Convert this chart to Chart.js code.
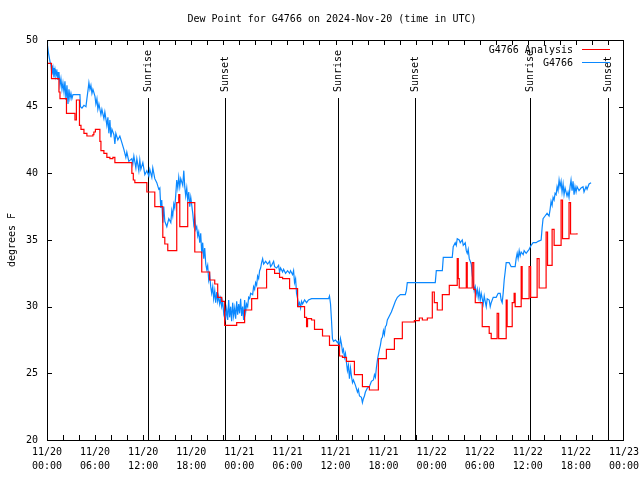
<!DOCTYPE html>
<html><head><meta charset="utf-8">
<script src="https://cdn.jsdelivr.net/npm/chart.js@4.4.0/dist/chart.umd.min.js"></script>
<style>html,body{margin:0;padding:0;background:#fff}canvas{display:block}</style>
</head><body>
<canvas id="c" width="640" height="480"></canvas>
<script>
// Hours since 2024-11-20 00:00 UTC
const obsTime = [0.00,0.06,0.19,0.37,0.50,0.62,0.75,0.87,1.00,1.12,1.25,1.37,1.49,1.62,1.74,1.87,1.99,2.12,2.24,2.37,2.49,2.62,2.74,2.86,2.99,3.11,3.24,4.11,4.17,4.36,4.61,4.86,4.98,5.11,5.23,5.36,5.48,5.61,5.73,5.98,6.10,6.23,6.35,6.48,6.73,6.85,7.10,7.22,7.47,7.60,7.72,7.85,7.97,8.10,8.35,8.47,8.59,8.84,9.09,9.34,9.59,9.84,9.96,10.21,10.59,10.71,10.84,11.09,11.21,11.46,11.58,11.71,11.96,12.21,12.46,12.71,12.83,13.08,13.20,13.45,13.70,13.95,14.08,14.20,14.32,14.45,14.57,14.70,14.95,15.20,15.45,15.57,15.69,15.82,15.94,16.07,16.19,16.32,16.44,16.57,16.69,16.94,17.07,17.19,17.31,17.44,17.56,17.69,17.81,17.94,18.19,18.31,18.44,18.56,18.68,18.81,18.93,19.06,19.18,19.31,19.43,19.56,19.68,19.81,19.93,20.05,20.18,20.30,20.43,20.55,20.68,20.80,20.93,21.05,21.18,21.30,21.42,21.55,21.67,21.80,21.92,22.05,22.17,22.30,22.42,22.55,22.67,22.79,22.92,23.04,23.17,23.29,23.42,23.54,23.67,23.79,23.92,24.04,24.16,24.29,24.41,24.54,24.66,24.79,24.91,25.04,25.16,25.29,25.41,25.66,25.78,25.91,26.03,26.16,26.28,26.41,26.53,26.66,26.78,26.91,27.03,27.28,27.53,27.78,27.90,28.03,28.28,28.40,28.65,28.90,29.02,29.15,29.40,29.52,29.77,30.02,30.27,30.39,30.64,30.77,30.89,31.02,31.14,31.27,31.39,31.51,31.64,31.76,31.89,32.14,32.39,32.63,33.01,35.13,35.25,35.38,35.50,35.62,35.75,36.00,36.25,36.37,36.50,36.62,36.75,36.87,36.99,37.12,37.24,37.37,37.49,37.62,37.74,37.87,37.99,38.12,38.24,38.49,38.74,38.86,38.99,39.24,39.36,39.48,39.61,39.73,39.98,40.23,40.48,40.73,40.86,40.98,41.10,41.23,41.35,41.48,41.60,41.73,41.85,41.98,42.10,42.22,42.35,42.47,42.72,42.97,43.22,43.47,43.72,44.09,44.71,44.84,44.96,48.45,48.58,49.33,49.45,50.57,50.69,50.94,51.07,51.19,51.44,51.57,51.82,51.94,52.19,52.32,52.44,52.56,52.69,52.94,53.06,53.19,53.31,53.44,53.56,53.69,53.81,53.94,54.06,54.18,54.31,54.43,54.56,54.68,54.81,54.93,55.18,55.31,55.43,55.68,56.05,56.30,56.55,56.67,56.80,56.92,57.05,57.17,57.30,57.67,57.92,58.42,58.54,58.67,58.79,58.92,59.04,59.17,59.42,59.54,59.79,60.04,60.16,60.41,60.66,61.03,61.28,61.66,61.78,61.90,62.15,62.40,62.65,62.78,62.90,63.03,63.15,63.28,63.40,63.53,63.65,63.77,63.90,64.02,64.15,64.27,64.40,64.52,64.65,64.89,65.02,65.14,65.27,65.39,65.52,65.64,65.77,65.89,66.02,66.14,66.39,66.64,66.89,67.01,67.26,67.39,67.64,67.89];
const obsDew = [50.0,49.6,49.0,48.4,48.1,47.4,47.9,47.2,47.8,47.3,47.6,47.0,47.6,46.6,47.1,46.3,46.8,46.1,46.9,45.5,46.6,45.2,46.3,45.6,46.0,45.6,45.9,45.9,45.0,44.9,45.1,45.0,45.6,46.2,46.8,46.3,46.6,46.0,46.3,45.8,45.2,45.6,44.8,45.2,44.4,44.8,44.1,44.6,43.6,44.2,43.0,44.0,42.7,43.3,42.9,42.2,43.0,42.5,42.8,42.3,41.8,41.2,41.6,40.9,41.1,40.7,41.3,40.4,41.1,40.2,41.0,40.3,40.8,39.9,40.2,39.8,40.3,39.7,40.4,39.6,39.3,38.8,38.9,37.4,38.0,36.3,37.5,36.4,36.0,36.6,36.3,37.2,36.8,37.7,37.4,38.4,39.5,38.9,39.7,39.0,39.6,39.1,40.2,39.0,38.3,38.9,38.0,38.6,37.5,38.2,37.0,36.2,36.7,35.8,36.0,35.3,35.6,34.8,35.5,34.0,34.8,33.6,34.4,33.2,32.8,33.1,32.0,32.4,31.5,31.0,31.5,30.6,31.2,30.3,31.1,30.4,30.8,30.2,30.6,30.0,30.4,29.5,29.9,29.2,29.8,29.0,30.5,29.2,30.0,28.9,30.3,29.3,29.9,29.1,30.4,29.4,30.2,29.5,30.6,29.3,30.0,29.0,30.5,29.6,30.2,30.0,30.7,30.6,31.0,30.9,31.5,31.3,31.8,31.6,32.3,32.1,32.7,32.9,33.3,33.6,33.2,33.4,33.2,33.4,33.0,33.1,33.4,33.0,32.9,33.1,32.6,32.9,32.6,32.8,32.5,32.7,32.5,32.7,32.4,32.7,31.8,32.1,31.0,30.6,30.1,30.3,29.9,30.4,30.2,30.5,30.3,30.5,30.6,30.6,30.8,30.2,29.0,27.6,27.4,27.5,27.3,27.4,27.0,27.6,27.2,26.6,26.8,26.2,26.5,25.8,25.2,25.6,24.6,25.4,24.8,24.3,24.5,24.1,23.6,23.8,23.3,23.2,22.8,23.1,23.3,23.6,23.9,24.0,24.4,24.5,24.9,24.7,25.4,26.0,26.4,26.8,27.1,27.6,27.7,28.2,27.9,28.5,28.6,29.0,29.3,29.6,30.0,30.4,30.7,30.9,30.9,31.2,31.8,31.8,32.7,32.7,33.7,33.7,34.5,34.8,34.6,35.1,35.0,34.8,35.0,34.6,34.8,34.2,34.0,34.3,33.6,33.2,32.4,31.8,31.2,31.5,30.9,31.3,30.7,31.2,30.5,31.0,30.6,30.2,30.8,30.4,30.0,30.6,30.5,30.0,30.3,30.7,30.7,31.0,31.0,30.5,30.3,31.0,32.0,32.6,33.3,33.3,33.0,33.0,33.6,34.0,33.6,34.2,33.8,34.1,33.9,34.2,34.0,34.2,34.3,34.6,34.8,34.8,34.9,35.0,35.9,36.6,36.8,37.0,36.8,37.3,37.9,37.6,38.2,38.0,38.5,38.4,39.0,38.7,39.5,39.0,39.4,38.6,39.2,38.4,38.9,38.3,38.6,38.2,39.0,39.5,38.7,39.4,38.4,39.0,38.6,39.0,38.7,38.9,39.0,38.6,39.0,38.8,39.2,39.3];

const anaTime = [0.00,0.56,1.49,1.62,2.43,3.49,3.67,4.05,4.24,4.61,4.98,5.73,5.85,6.04,6.60,6.73,7.10,7.47,7.85,8.22,8.47,10.59,10.77,10.96,12.46,13.45,14.45,14.70,15.07,16.19,16.44,16.57,17.56,18.44,19.31,20.30,20.93,21.30,21.80,22.17,23.67,24.66,25.54,26.28,27.40,28.40,29.02,29.40,30.27,31.27,32.14,32.39,32.51,33.01,33.38,34.38,35.25,36.50,36.87,37.37,38.36,39.36,40.23,41.35,42.35,43.35,44.34,45.84,46.46,46.84,47.46,48.08,48.33,48.70,49.33,50.20,51.19,51.32,51.44,52.32,52.44,53.06,53.25,53.44,54.31,55.18,55.43,56.17,56.36,57.30,57.42,58.05,58.29,58.42,59.17,59.29,60.16,60.35,61.16,61.41,62.28,62.46,63.03,63.28,64.15,64.33,65.14,65.33,66.14];
const anaDew = [48.25,47.1,46.1,45.6,44.5,44.0,45.5,43.6,43.3,43.0,42.8,42.9,43.1,43.3,42.4,41.7,41.5,41.2,41.1,41.2,40.8,40.0,39.5,39.3,38.6,37.5,35.2,34.7,34.2,37.8,38.4,36.0,37.8,34.1,32.6,32.0,31.7,30.7,30.4,28.6,28.8,29.75,30.6,31.4,32.8,32.5,32.2,32.1,31.35,30.0,29.2,28.5,29.1,29.0,28.3,27.8,27.1,26.3,26.2,25.9,24.9,24.0,23.75,26.1,26.8,27.6,28.85,28.95,29.15,29.0,29.15,31.1,30.3,29.75,30.9,31.6,33.6,32.1,31.4,33.3,31.4,33.3,31.3,30.3,28.5,28.0,27.6,29.5,27.6,30.5,28.5,30.3,31.0,30.0,33.0,30.6,33.0,30.7,33.6,31.4,35.6,33.1,35.8,34.6,38.0,35.1,37.8,35.45,35.5];

const sunTimes = [12.58, 22.17, 36.37, 45.96, 60.29, 70.0];
const sunLabels = ['Sunrise','Sunset','Sunrise','Sunset','Sunrise','Sunset'];
const seriesNames = ['G4766 Analysis','G4766'];
const seriesColors = ['#ff0000','#0a88ff'];
const titleText = 'Dew Point for G4766 on 2024-Nov-20 (time in UTC)';
const yTitle = 'degrees F';

const FONT = '10px "DejaVu Sans Mono", monospace';

const decor = {
  id: 'decor',
  beforeDatasetsDraw(chart) {
    const {ctx, chartArea: a, scales: {x}} = chart;
    ctx.save();
    ctx.strokeStyle = '#000'; ctx.lineWidth = 1;
    sunTimes.forEach((t, i) => {
      const px = Math.round(x.getPixelForValue(t)) + 0.5;
      ctx.beginPath(); ctx.moveTo(px, a.bottom); ctx.lineTo(px, a.top + 58); ctx.stroke();
      ctx.save();
      ctx.translate(px, a.top + 52); ctx.rotate(-Math.PI / 2);
      ctx.font = FONT; ctx.fillStyle = '#000'; ctx.textAlign = 'left'; ctx.textBaseline = 'middle';
      ctx.fillText(sunLabels[i], 0, 0);
      ctx.restore();
    });
    ctx.restore();
  },
  afterDraw(chart) {
    const {ctx, chartArea: a, scales: {x, y}} = chart;
    ctx.save();
    ctx.strokeStyle = '#000'; ctx.lineWidth = 1;
    // frame
    ctx.strokeRect(a.left + 0.5, a.top + 0.5, a.right - a.left - 1, a.bottom - a.top);
    // x ticks every 2h, inward, top and bottom
    ctx.beginPath();
    for (let h = 2; h < 72; h += 2) {
      const px = Math.round(x.getPixelForValue(h)) + 0.5;
      ctx.moveTo(px, a.bottom); ctx.lineTo(px, a.bottom - 5);
      ctx.moveTo(px, a.top); ctx.lineTo(px, a.top + 5);
    }
    for (let v = 25; v < 50; v += 5) {
      const py = Math.round(y.getPixelForValue(v)) + 0.5;
      ctx.moveTo(a.left, py); ctx.lineTo(a.left + 5, py);
      ctx.moveTo(a.right, py); ctx.lineTo(a.right - 5, py);
    }
    ctx.stroke();
    // title
    ctx.font = FONT; ctx.fillStyle = '#000';
    ctx.textAlign = 'center'; ctx.textBaseline = 'middle';
    ctx.fillText(titleText, 332, 19);
    // y title
    ctx.save(); ctx.translate(12, 240); ctx.rotate(-Math.PI / 2);
    ctx.fillText(yTitle, 0, 0); ctx.restore();
    // legend
    ctx.textAlign = 'right';
    seriesNames.forEach((n, i) => {
      const ly = a.top + 10 + i * 13;
      ctx.fillStyle = '#000';
      ctx.fillText(n, a.right - 51, ly);
      ctx.strokeStyle = seriesColors[i];
      ctx.beginPath(); ctx.moveTo(a.right - 42, ly - 0.5); ctx.lineTo(a.right - 14, ly - 0.5); ctx.stroke();
    });
    ctx.restore();
  }
};

const pad2 = n => (n < 10 ? '0' : '') + n;

new Chart(document.getElementById('c'), {
  type: 'line',
  data: {
    datasets: [
      {
        label: seriesNames[0],
        data: anaTime.map((t, i) => ({x: t, y: anaDew[i]})),
        borderColor: seriesColors[0], borderWidth: 1.2, pointRadius: 0, stepped: 'before', tension: 0
      },
      {
        label: seriesNames[1],
        data: obsTime.map((t, i) => ({x: t, y: obsDew[i]})),
        borderColor: seriesColors[1], borderWidth: 1.2, pointRadius: 0, tension: 0
      }
    ]
  },
  options: {
    responsive: false, animation: false, devicePixelRatio: 1,
    layout: {padding: {left: 0, top: 40, right: 16, bottom: 0}},
    plugins: {legend: {display: false}, title: {display: false}, tooltip: {enabled: false}},
    scales: {
      x: {
        type: 'linear', min: 0, max: 72,
        grid: {display: false, drawTicks: false}, border: {display: false},
        ticks: {
          stepSize: 6, autoSkip: false, maxRotation: 0, minRotation: 0, padding: 5,
          color: '#000', font: {family: '"DejaVu Sans Mono", monospace', size: 10, lineHeight: 1.4},
          callback: v => ['11/' + (20 + Math.floor(v / 24)), pad2(v % 24) + ':00']
        },
        afterFit: s => { s.height = 40; s.paddingLeft = 0; s.paddingRight = 0; }
      },
      y: {
        min: 20, max: 50,
        grid: {display: false, drawTicks: false}, border: {display: false},
        ticks: {stepSize: 5, padding: 9, color: '#000', font: {family: '"DejaVu Sans Mono", monospace', size: 10}},
        afterFit: s => { s.width = 47; s.paddingTop = 0; s.paddingBottom = 0; }
      }
    }
  },
  plugins: [decor]
});
</script>
</body></html>
